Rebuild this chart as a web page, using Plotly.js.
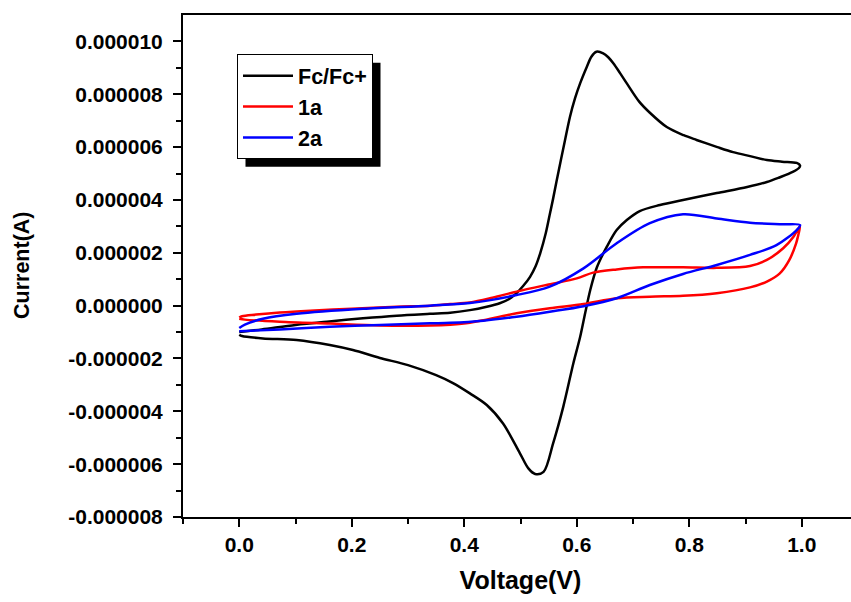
<!DOCTYPE html>
<html>
<head>
<meta charset="utf-8">
<script src="https://cdn.plot.ly/plotly-3.0.1.min.js"></script>
<style>
html,body{margin:0;padding:0;overflow:hidden;background:#fff;}
#chart{width:860px;height:602px;}
</style>
</head>
<body>
<div id="chart"></div>
<script>
// ---- Data (Voltage in V, Current in microamperes) ----
const seriesNames = ["Fc/Fc+", "1a", "2a"];
const seriesColors = ["#000000", "#ff0000", "#0000ff"];

const fcV = [0.000,0.040,0.100,0.160,0.220,0.280,0.339,0.375,0.410,0.440,0.463,0.480,0.493,0.505,0.517,0.527,0.535,0.545,0.552,0.558,0.564,0.579,0.588,0.597,0.606,0.618,0.626,0.635,0.647,0.656,0.665,0.677,0.689,0.711,0.730,0.760,0.790,0.813,0.850,0.878,0.910,0.938,0.965,0.991,0.997,0.995,
  0.984,0.960,0.938,0.903,0.849,0.789,0.748,0.712,0.689,0.671,0.654,0.636,0.624,0.615,0.606,0.594,0.576,0.558,0.541,0.526,0.514,0.499,0.469,0.440,0.410,0.380,0.350,0.300,0.250,0.202,0.161,0.102,0.042,0.005,0.000];
const fcI = [-1.00,-0.90,-0.73,-0.60,-0.48,-0.38,-0.31,-0.27,-0.17,-0.04,0.09,0.25,0.47,0.75,1.09,1.50,1.98,2.75,3.45,4.05,4.70,6.25,7.15,7.85,8.41,9.04,9.42,9.61,9.55,9.40,9.17,8.80,8.41,7.72,7.30,6.76,6.45,6.27,6.00,5.81,5.65,5.51,5.45,5.40,5.30,5.21,
  5.06,4.85,4.68,4.49,4.26,4.00,3.81,3.58,3.24,2.86,2.25,1.46,0.59,-0.28,-1.19,-2.18,-3.83,-5.21,-6.29,-6.37,-6.16,-5.59,-4.46,-3.76,-3.32,-2.93,-2.63,-2.25,-1.98,-1.68,-1.49,-1.30,-1.24,-1.15,-1.10];

const aV = [0.000,0.005,0.030,0.072,0.126,0.200,0.280,0.340,0.375,0.410,0.450,0.493,0.550,0.600,0.629,0.671,0.718,0.789,0.849,0.908,0.938,0.967,0.985,0.997,
  0.993,0.990,0.978,0.961,0.938,0.908,0.849,0.789,0.730,0.671,0.612,0.552,0.493,0.434,0.410,0.375,0.339,0.250,0.161,0.072,0.010,0.000];
const aI = [-0.45,-0.40,-0.34,-0.26,-0.19,-0.12,-0.04,0.00,0.06,0.12,0.30,0.53,0.80,1.03,1.25,1.37,1.45,1.45,1.43,1.50,1.73,2.17,2.60,3.02,
  2.60,2.36,1.73,1.22,0.91,0.69,0.47,0.37,0.34,0.28,0.06,-0.10,-0.29,-0.55,-0.65,-0.72,-0.75,-0.75,-0.68,-0.61,-0.53,-0.50];

const bV = [0.000,0.010,0.042,0.102,0.220,0.339,0.410,0.493,0.552,0.612,0.671,0.730,0.789,0.849,0.908,0.967,0.997,
  0.991,0.955,0.908,0.849,0.789,0.730,0.671,0.612,0.552,0.493,0.434,0.375,0.339,0.250,0.161,0.072,0.000];
const bI = [-0.85,-0.72,-0.50,-0.31,-0.12,0.00,0.10,0.40,0.72,1.41,2.36,3.12,3.46,3.30,3.14,3.08,3.05,
  2.86,2.29,1.92,1.54,1.20,0.78,0.28,-0.02,-0.23,-0.42,-0.57,-0.65,-0.67,-0.73,-0.80,-0.90,-0.97];

const xTickVals = [0.0,0.2,0.4,0.6,0.8,1.0];
const xTickText = ["0.0","0.2","0.4","0.6","0.8","1.0"];
const yTickVals = [-8e-6,-6e-6,-4e-6,-2e-6,0,2e-6,4e-6,6e-6,8e-6,10e-6];
const yTickText = ["-0.000008","-0.000006","-0.000004","-0.000002","0.000000","0.000002","0.000004","0.000006","0.000008","0.000010"];
const yMinorVals = [-7e-6,-5e-6,-3e-6,-1e-6,1e-6,3e-6,5e-6,7e-6,9e-6];
const xTitle = "Voltage(V)";
const yTitle = "Current(A)";

const MICRO = 1e-6;
const FONT = "Liberation Sans, Arial, Helvetica, sans-serif";

const xs = [fcV, aV, bV];
const ys = [fcI, aI, bI];
const traces = xs.map((x, i) => ({
  type: "scatter",
  mode: "lines",
  name: seriesNames[i],
  x: x,
  y: ys[i].map(v => v * MICRO),
  line: {color: seriesColors[i], width: 2.5, shape: "spline", smoothing: 0.9}
}));

const axisCommon = {
  showline: true, linecolor: "#000", linewidth: 2, mirror: true,
  ticks: "outside", ticklen: 8, tickwidth: 2, tickcolor: "#000",
  showgrid: false, zeroline: false,
  tickfont: {family: FONT, size: 21, color: "#000", weight: "bold"}
};

const layout = {
  width: 860, height: 602,
  margin: {l: 183, r: 2, t: 15, b: 85},
  paper_bgcolor: "#fff", plot_bgcolor: "#fff",
  showlegend: true,
  font: {family: FONT, color: "#000"},
  xaxis: Object.assign({}, axisCommon, {
    range: [-0.1, 1.1], tickmode: "array", tickvals: xTickVals, ticktext: xTickText,
    minor: {dtick: 0.1, tick0: 0, ticks: "outside", ticklen: 5, tickwidth: 2, tickcolor: "#000"},
    title: {text: xTitle, font: {family: FONT, size: 25, color: "#000", weight: "bold"}, standoff: 16}
  }),
  yaxis: Object.assign({}, axisCommon, {
    range: [-8e-6, 11e-6], tickmode: "array", tickvals: yTickVals, ticktext: yTickText,
    ticklabelstandoff: 6,
    minor: {tickmode: "array", tickvals: yMinorVals, ticks: "outside", ticklen: 5, tickwidth: 2, tickcolor: "#000"}
  }),
  legend: {
    x: 0.08, y: 0.922, xanchor: "left", yanchor: "top",
    bgcolor: "#fff", bordercolor: "#000", borderwidth: 1,
    itemwidth: 50,
    font: {family: FONT, size: 21.5, color: "#000", weight: "bold"}
  },
  annotations: [{
    text: yTitle, textangle: -90, showarrow: false,
    xref: "paper", yref: "paper", x: (22 - 183) / 675, y: 1 - (265 - 15) / 502,
    xanchor: "center", yanchor: "middle",
    font: {family: FONT, size: 21.5, color: "#000", weight: "bold"}
  }]
};

Plotly.newPlot("chart", traces, layout, {displayModeBar: false, responsive: false}).then(gd => {
  const bg = gd.querySelector(".legend .bg");
  if (!bg) return;
  const box = bg.getBoundingClientRect();
  const root = gd.getBoundingClientRect();
  const s = gd._fullLayout._size;
  const off = 8;
  const px = p => (p - root.left - s.l) / s.w;
  const py = p => 1 - (p - root.top - s.t) / s.h;
  Plotly.relayout(gd, {shapes: [{
    type: "rect", xref: "paper", yref: "paper", layer: "above",
    x0: px(box.left + off), x1: px(box.right + off),
    y0: py(box.top + off), y1: py(box.bottom + off),
    fillcolor: "#000", line: {width: 0}
  }]});
});
</script>
</body>
</html>
